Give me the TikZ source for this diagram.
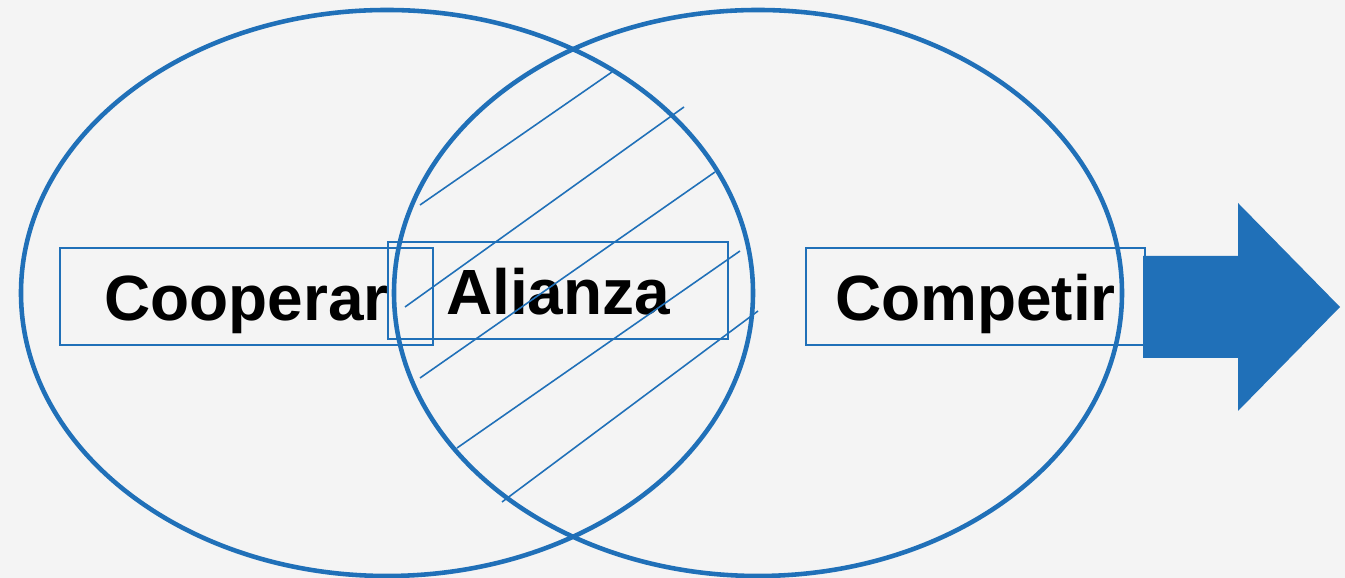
\documentclass[tikz,border=0pt]{standalone}
\usepackage{fontspec}
\setmainfont{Liberation Sans}
\definecolor{azul}{RGB}{32,112,184}
\definecolor{fondo}{RGB}{244,244,244}

\begin{document}
\begin{tikzpicture}[
  circulo/.style={draw=azul, line width=1.3pt},
  caja/.style={draw=azul, line width=0.45pt, inner sep=0pt, minimum height=0.97cm,
    text height=0.73cm, text depth=0.24cm,
    font=\fontsize{18.2pt}{22pt}\selectfont\bfseries},
  raya/.style={draw=azul, line width=0.45pt}
]

\fill[fondo] (0,0) rectangle (13.45,5.78);
\useasboundingbox (0,0) rectangle (13.45,5.78);

\node[caja, minimum width=3.73cm] (coop) at (2.465,2.815) {Cooperar};
\node[caja, minimum width=3.40cm] (ali)  at (5.58,2.875)  {Alianza};
\node[caja, minimum width=3.39cm] (comp) at (9.755,2.815) {Competir};

\draw[circulo] (3.87,2.85) ellipse [x radius=3.66, y radius=2.83];
\draw[circulo] (7.58,2.85) ellipse [x radius=3.64, y radius=2.83];

\draw[raya] (4.20,3.73) -- (6.12,5.06);
\draw[raya] (4.05,2.71) -- (6.84,4.71);
\draw[raya] (4.20,2.00) -- (7.15,4.06);
\draw[raya] (4.57,1.30) -- (7.40,3.27);
\draw[raya] (5.02,0.76) -- (7.58,2.67);

\fill[azul] (11.43,3.22) -- (12.38,3.22) -- (12.38,3.75) -- (13.40,2.71)
  -- (12.38,1.67) -- (12.38,2.20) -- (11.43,2.20) -- cycle;

\end{tikzpicture}
\end{document}
